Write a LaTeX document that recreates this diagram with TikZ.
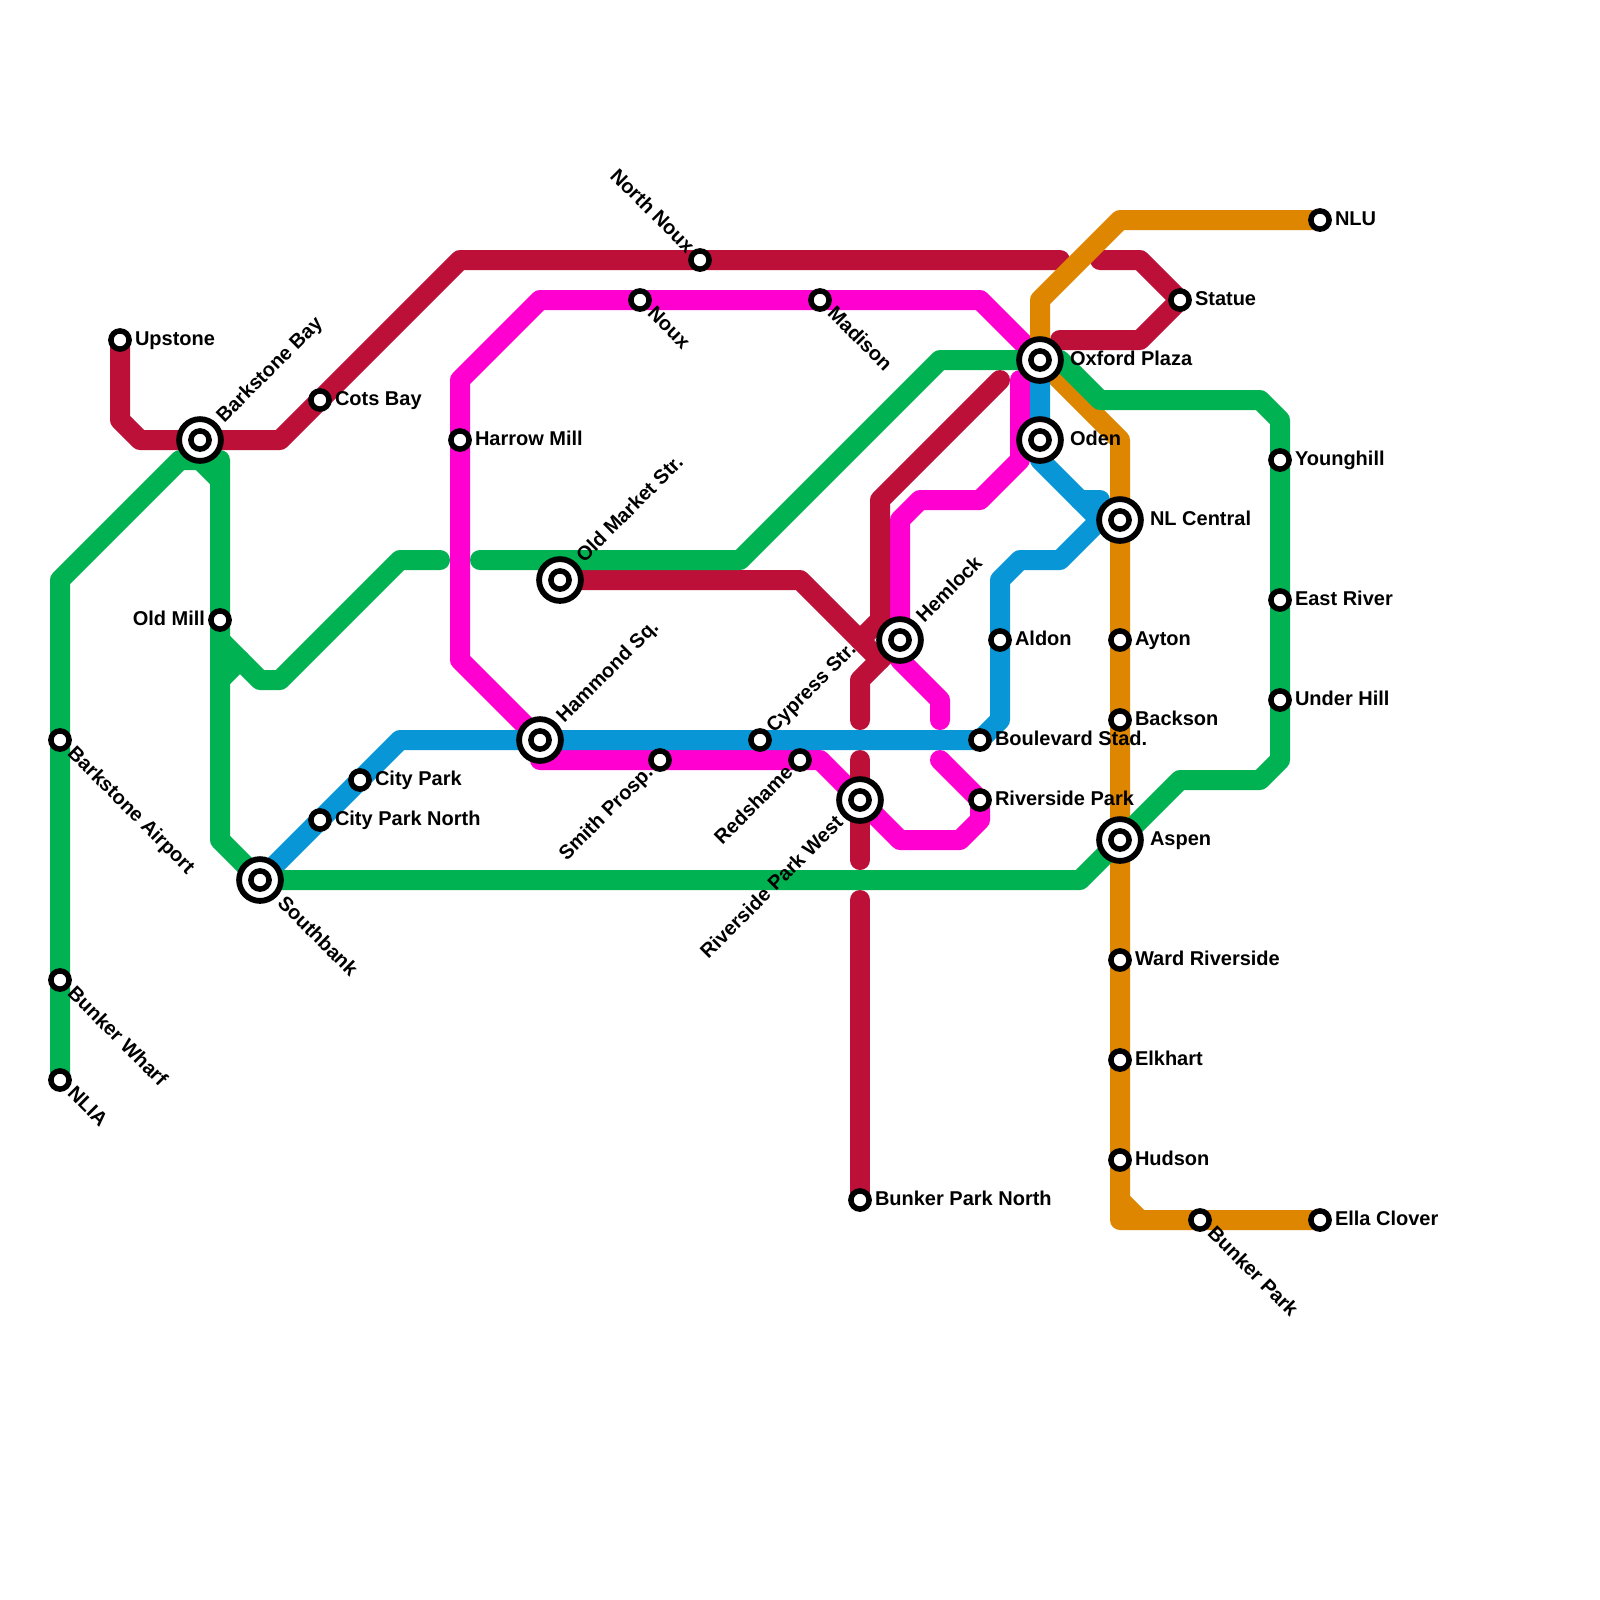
\documentclass[tikz,border=0pt]{standalone}
\usepackage{fontspec}
\setmainfont{Liberation Sans}
\usetikzlibrary{backgrounds}
\definecolor{crim}{HTML}{BD1038}
\definecolor{magen}{HTML}{FF00D0}
\definecolor{grn}{HTML}{00B251}
\definecolor{blu}{HTML}{0896D7}
\definecolor{orng}{HTML}{DF8600}
\tikzset{
  route/.style={line width=2mm,line cap=round,line join=round},
  crimline/.style={route,draw=crim},
  magline/.style={route,draw=magen},
  grnline/.style={route,draw=grn},
  bluline/.style={route,draw=blu},
  orgline/.style={route,draw=orng},
  stn/.style={circle,draw=black,fill=white,line width=.55mm,minimum size=1.82mm,inner sep=0pt,outer sep=0pt},
  xchg/.style={circle,draw=black,fill=white,line width=.58mm,minimum size=4.18mm,inner sep=0pt,outer sep=0pt,
    path picture={\draw[black,line width=.55mm,fill=white] (path picture bounding box.center) circle (.91mm);}},
  lbl/.style={font=\fontsize{5.69}{6.8}\selectfont\bfseries,inner sep=0pt,outer sep=0pt,text height=1.45mm,text depth=.35mm,text=black},
  toE/.style={lbl,anchor=west,shift={(#1,0mm)}},
  toW/.style={lbl,anchor=east,shift={(-#1,0mm)}},
  toNE/.style={lbl,anchor=west,shift={(45:#1)},rotate=45},
  toSE/.style={lbl,anchor=west,shift={(-45:#1)},rotate=-45},
  toNW/.style={lbl,anchor=east,shift={(135:#1)},rotate=-45},
  toSW/.style={lbl,anchor=east,shift={(225:#1)},rotate=45},
}
\begin{document}
\begin{tikzpicture}[x=0.2cm,y=-0.2cm]
\useasboundingbox (0,0) rectangle (80,80);
% stations
\node[stn] (upstone) at (6,17) {};
\node[xchg] (bay) at (10,22) {};
\node[stn] (cots) at (16,20) {};
\node[stn] (harrow) at (23,22) {};
\node[stn] (oldmill) at (11,31) {};
\node[stn] (airport) at (3,37) {};
\node[stn] (wharf) at (3,49) {};
\node[stn] (nlia) at (3,54) {};
\node[stn] (citypark) at (18,39) {};
\node[stn] (cityparkn) at (16,41) {};
\node[xchg] (southbank) at (13,44) {};
\node[xchg] (oldmarket) at (28,29) {};
\node[xchg] (hammond) at (27,37) {};
\node[stn] (noux) at (32,15) {};
\node[stn] (northnoux) at (35,13) {};
\node[stn] (madison) at (41,15) {};
\node[stn] (cypress) at (38,37) {};
\node[stn] (smith) at (33,38) {};
\node[stn] (redshame) at (40,38) {};
\node[xchg] (rpwest) at (43,40) {};
\node[xchg] (hemlock) at (45,32) {};
\node[stn] (bpnorth) at (43,60) {};
\node[xchg] (oxford) at (52,18) {};
\node[xchg] (oden) at (52,22) {};
\node[xchg] (nlcentral) at (56,26) {};
\node[stn] (aldon) at (50,32) {};
\node[stn] (ayton) at (56,32) {};
\node[stn] (backson) at (56,36) {};
\node[stn] (boulevard) at (49,37) {};
\node[stn] (riverside) at (49,40) {};
\node[xchg] (aspen) at (56,42) {};
\node[stn] (ward) at (56,48) {};
\node[stn] (elkhart) at (56,53) {};
\node[stn] (hudson) at (56,58) {};
\node[stn] (bunkerpark) at (60,61) {};
\node[stn] (ella) at (66,61) {};
\node[stn] (statue) at (59,15) {};
\node[stn] (nlu) at (66,11) {};
\node[stn] (younghill) at (64,23) {};
\node[stn] (eastriver) at (64,30) {};
\node[stn] (underhill) at (64,35) {};
% labels
\node[toE=1.5mm] (l1) at (upstone) {Upstone};
\node[toNE=2.9mm] (l2) at (bay) {Barkstone Bay};
\node[toE=1.5mm] (l3) at (cots) {Cots Bay};
\node[toE=1.5mm] (l4) at (harrow) {Harrow Mill};
\node[toW=1.5mm] (l5) at (oldmill) {Old Mill};
\node[toSE=1.5mm] (l6) at (airport) {Barkstone Airport};
\node[toSE=1.5mm] (l7) at (wharf) {Bunker Wharf};
\node[toSE=1.5mm] (l8) at (nlia) {NLIA};
\node[toE=1.5mm] (l9) at (citypark) {City Park};
\node[toE=1.5mm] (l10) at (cityparkn) {City Park North};
\node[toSE=2.9mm] (l11) at (southbank) {Southbank};
\node[toNE=2.9mm] (l12) at (oldmarket) {Old Market Str.};
\node[toNE=2.9mm] (l13) at (hammond) {Hammond Sq.};
\node[toSE=1.5mm] (l14) at (noux) {Noux};
\node[toNW=1.4mm] (l15) at (northnoux) {North Noux};
\node[toSE=1.5mm] (l16) at (madison) {Madison};
\node[toNE=1.5mm] (l17) at (cypress) {Cypress Str.};
\node[toSW=1.4mm] (l18) at (smith) {Smith Prosp.};
\node[toSW=1.4mm] (l19) at (redshame) {Redshame};
\node[toSW=2.8mm] (l20) at (rpwest) {Riverside Park West};
\node[toNE=2.9mm] (l21) at (hemlock) {Hemlock};
\node[toE=1.5mm] (l22) at (bpnorth) {Bunker Park North};
\node[toE=3mm] (l23) at (oxford) {Oxford Plaza};
\node[toE=3mm] (l24) at (oden) {Oden};
\node[toE=3mm] (l25) at (nlcentral) {NL Central};
\node[toE=1.5mm] (l26) at (aldon) {Aldon};
\node[toE=1.5mm] (l27) at (ayton) {Ayton};
\node[toE=1.5mm] (l28) at (backson) {Backson};
\node[toE=1.5mm] (l29) at (boulevard) {Boulevard Stad.};
\node[toE=1.5mm] (l30) at (riverside) {Riverside Park};
\node[toE=3mm] (l31) at (aspen) {Aspen};
\node[toE=1.5mm] (l32) at (ward) {Ward Riverside};
\node[toE=1.5mm] (l33) at (elkhart) {Elkhart};
\node[toE=1.5mm] (l34) at (hudson) {Hudson};
\node[toSE=1.5mm] (l35) at (bunkerpark) {Bunker Park};
\node[toE=1.5mm] (l36) at (ella) {Ella Clover};
\node[toE=1.5mm] (l37) at (statue) {Statue};
\node[toE=1.5mm] (l38) at (nlu) {NLU};
\node[toE=1.5mm] (l39) at (younghill) {Younghill};
\node[toE=1.5mm] (l40) at (eastriver) {East River};
\node[toE=1.5mm] (l41) at (underhill) {Under Hill};
% routes
\begin{pgfonlayer}{background}
\fill[white] (0,0) rectangle (80,80);
% magenta
\draw[magline] (hammond.center) -- (23,33) -- (harrow.center) -- (23,19) -- (27,15) -- (noux.center) -- (madison.center) -- (49,15) -- (oxford.center);
\draw[magline] (51,19) -- (51,23) -- (49,25) -- (46,25) -- (45,26) -- (hemlock.center) -- (45,33) -- (47,35) -- (47,36);
\draw[magline] (47,38) -- (riverside.center) -- (49,41) -- (48,42) -- (45,42) -- (rpwest.center) -- (41,38) -- (redshame.center) -- (smith.center) -- (27,38) -- (hammond.center);
% crimson
\draw[crimline] (upstone.center) -- (6,21) -- (7,22) -- (bay.center) -- (14,22) -- (cots.center) -- (23,13) -- (northnoux.center) -- (53,13);
\draw[crimline] (55,13) -- (57,13) -- (statue.center) -- (57,17) -- (53,17);
\draw[crimline] (oldmarket.center) -- (40,29) -- (44,33);
\draw[crimline] (50,19) -- (44,25) -- (44,31) -- (43,32);
\draw[crimline] (43,36) -- (43,34) -- (hemlock.center);
\draw[crimline] (43,38) -- (rpwest.center) -- (43,43);
\draw[crimline] (43,45) -- (bpnorth.center);
% orange
\draw[orgline] (nlu.center) -- (56,11) -- (52,15) -- (oxford.center) -- (56,22) -- (nlcentral.center) -- (ayton.center) -- (backson.center) -- (aspen.center) -- (ward.center) -- (elkhart.center) -- (hudson.center) -- (56,61) -- (bunkerpark.center) -- (ella.center);
\draw[orgline] (56,60) -- (57,61);
% blue
\draw[bluline] (southbank.center) -- (cityparkn.center) -- (citypark.center) -- (20,37) -- (hammond.center) -- (cypress.center) -- (boulevard.center) -- (50,36) -- (aldon.center) -- (50,29) -- (51,28) -- (53,28) -- (55,26) -- (nlcentral.center);
\draw[bluline] (oxford.center) -- (oden.center) -- (52,23) -- (54,25) -- (55,25) -- (55,26);
\draw[bluline] (54,25) -- (55,26);
% green
\draw[grnline] (nlia.center) -- (wharf.center) -- (airport.center) -- (3,29) -- (9,23) -- (11,23) -- (oldmill.center) -- (11,42) -- (southbank.center) -- (54,44) -- (aspen.center) -- (59,39) -- (63,39) -- (64,38) -- (underhill.center) -- (eastriver.center) -- (younghill.center) -- (64,21) -- (63,20) -- (55,20) -- (53,18) -- (oxford.center) -- (47,18) -- (37,28) -- (24,28);
\draw[grnline] (10,23) -- (11,24);
\draw[grnline] (22,28) -- (20,28) -- (14,34) -- (13,34) -- (11,32);
\draw[grnline] (11,34) -- (12,33);
\end{pgfonlayer}
\end{tikzpicture}
\end{document}
